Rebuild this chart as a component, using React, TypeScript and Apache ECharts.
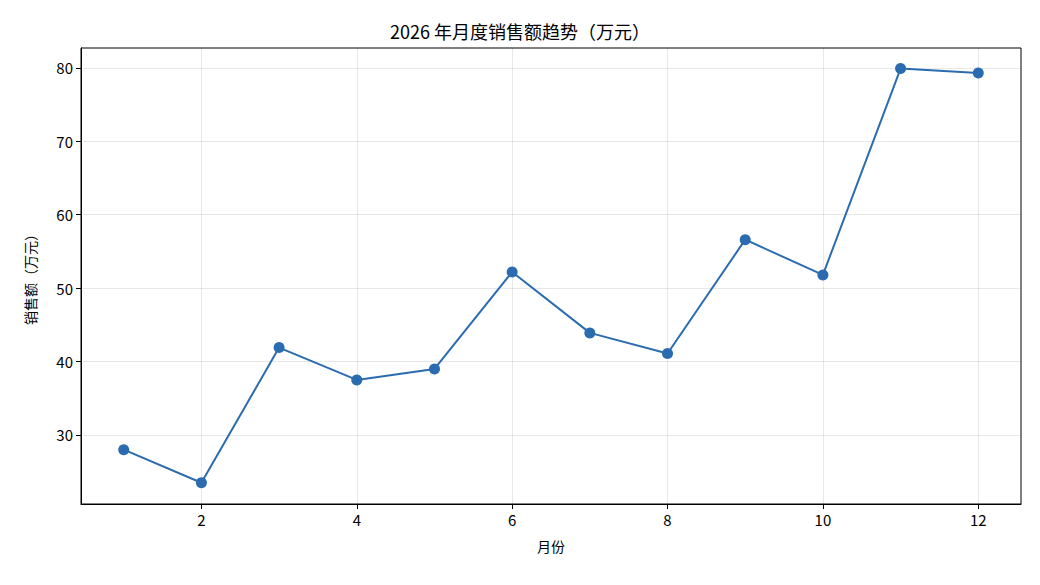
import { useEffect, useRef } from "react";
import * as echarts from "echarts";

// 月份与销售额（万元）
const months = [1, 2, 3, 4, 5, 6, 7, 8, 9, 10, 11, 12];
const sales = [28.0, 23.5, 41.9, 37.5, 39.0, 52.2, 43.9, 41.1, 56.6, 51.8, 79.9, 79.3];
const xTicks = [2, 4, 6, 8, 10, 12];
const yTicks = [30, 40, 50, 60, 70, 80];

const FONT = "'Noto Sans CJK SC', 'Noto Sans', sans-serif";

export default function App() {
  const chartRef = useRef<HTMLDivElement>(null);

  useEffect(() => {
    document.body.style.margin = "0";
    if (!chartRef.current) return;
    const chart = echarts.init(chartRef.current, null, { renderer: "svg" });

    chart.setOption({
      animation: false,
      backgroundColor: "#fff",
      title: {
        text: "2026 年月度销售额趋势（万元）",
        left: "center",
        top: 17,
        textStyle: { fontFamily: FONT, fontSize: 18, fontWeight: "normal", color: "#000" },
      },
      grid: {
        left: 81,
        right: 19,
        top: 48,
        bottom: 81,
        show: true,
        borderColor: "#000",
        borderWidth: 1,
        backgroundColor: "transparent",
      },
      xAxis: {
        type: "value",
        min: 0.45,
        max: 12.55,
        name: "月份",
        nameLocation: "middle",
        nameGap: 35,
        nameTextStyle: { fontFamily: FONT, fontSize: 14, color: "#000" },
        axisLine: { show: true, lineStyle: { color: "#000", width: 1 } },
        axisTick: { show: true, inside: false, length: 5, lineStyle: { color: "#000" }, customValues: xTicks },
        axisLabel: { fontFamily: FONT, fontSize: 15, color: "#000", margin: 8, customValues: xTicks },
        splitLine: { show: true, lineStyle: { color: "#000", opacity: 0.09, width: 1 } },
      },
      yAxis: {
        type: "value",
        min: 20.6,
        max: 82.7,
        name: "销售额（万元）",
        nameLocation: "middle",
        nameGap: 44,
        nameTextStyle: { fontFamily: FONT, fontSize: 14, color: "#000" },
        axisLine: { show: true, lineStyle: { color: "#000", width: 1 } },
        axisTick: { show: true, inside: false, length: 5, lineStyle: { color: "#000" }, customValues: yTicks },
        axisLabel: { fontFamily: FONT, fontSize: 15, color: "#000", margin: 8, customValues: yTicks },
        splitLine: { show: true, lineStyle: { color: "#000", opacity: 0.09, width: 1 } },
      },
      series: [
        {
          type: "line",
          data: months.map((m, i) => [m, sales[i]]),
          symbol: "circle",
          symbolSize: 11,
          showAllSymbol: true,
          lineStyle: { color: "#2b6cb0", width: 2 },
          itemStyle: { color: "#2b6cb0" },
          z: 3,
        },
      ],
    });

    return () => chart.dispose();
  }, []);

  return <div ref={chartRef} style={{ width: 1040, height: 585 }} />;
}
